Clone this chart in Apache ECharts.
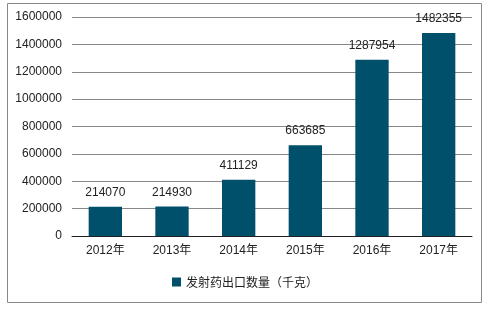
<!DOCTYPE html>
<html><head><meta charset="utf-8">
<script src="https://cdn.jsdelivr.net/npm/echarts@6/dist/echarts.min.js"></script>
<style>html,body{margin:0;padding:0;background:#fff}#c{width:490px;height:309px}</style>
</head><body><div id="c"></div>
<script>
const categories = ['2012年','2013年','2014年','2015年','2016年','2017年'];
const values = [214070, 214930, 411129, 663685, 1287954, 1482355];
const seriesName = '发射药出口数量（千克）';
const chart = echarts.init(document.getElementById('c'));
chart.setOption({
  animation: false,
  textStyle: {fontFamily: 'Arial, "Liberation Sans", "Noto Sans CJK SC", sans-serif'},
  graphic: [{type: 'rect', shape: {x: 7.5, y: 3.5, width: 474, height: 299}, style: {fill: 'none', stroke: '#888', lineWidth: 1}}],
  grid: {left: 72, right: 18, top: 17, bottom: 73},
  legend: {bottom: 16, left: 'center', itemWidth: 9, itemHeight: 9, icon: 'rect', itemGap: 5,
    textStyle: {fontSize: 12, color: '#222', fontFamily: '"Noto Sans CJK SC", sans-serif'}},
  xAxis: {type: 'category', data: categories,
    axisLine: {lineStyle: {color: '#222'}}, axisTick: {show: false},
    axisLabel: {fontSize: 12, color: '#222', margin: 9, fontFamily: 'Arial, "Noto Sans CJK SC", sans-serif'}},
  yAxis: {type: 'value', min: 0, max: 1600000, interval: 200000,
    axisLine: {show: false}, axisTick: {show: false},
    splitLine: {lineStyle: {color: '#888'}},
    axisLabel: {fontSize: 12, color: '#222', margin: 10, formatter: v => String(v)}},
  series: [{name: seriesName, type: 'bar', data: values, barWidth: '50%',
    itemStyle: {color: '#00506B'},
    label: {show: true, position: 'top', distance: 8, fontSize: 12, color: '#222'}}]
});
</script></body></html>
